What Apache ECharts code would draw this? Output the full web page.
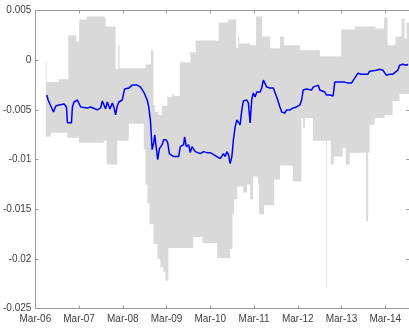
<!DOCTYPE html>
<html>
<head>
<meta charset="utf-8">
<script src="https://cdn.jsdelivr.net/npm/echarts@6/dist/echarts.min.js"></script>
<style>
html,body{margin:0;padding:0;background:#fff;}
#c{width:409px;height:328px;}
</style>
</head>
<body>
<div id="c"></div>
<script>
// x values are decimal years; Mar-06 = 2006.1667
const tickYears = [2006.1667, 2007.1667, 2008.1667, 2009.1667, 2010.1667, 2011.1667, 2012.1667, 2013.1667, 2014.1667];
const yTicks = [-0.025, -0.02, -0.015, -0.01, -0.005, 0, 0.005];

// blue line
const lineX = [2006.429,2006.459,2006.520,2006.582,2006.634,2006.709,2006.823,2006.878,2006.900,2006.937,2006.992,2007.014,2007.051,2007.128,2007.165,2007.203,2007.242,2007.356,2007.431,2007.470,2007.584,2007.659,2007.698,2007.734,2007.773,2007.812,2007.871,2007.926,2007.962,2008.001,2008.039,2008.076,2008.153,2008.206,2008.304,2008.381,2008.418,2008.495,2008.570,2008.645,2008.723,2008.759,2008.798,2008.814,2008.837,2008.873,2008.896,2008.928,2008.964,2009.003,2009.065,2009.101,2009.156,2009.192,2009.231,2009.329,2009.443,2009.481,2009.557,2009.579,2009.618,2009.670,2009.709,2009.748,2009.823,2009.862,2009.937,2010.012,2010.090,2010.165,2010.240,2010.317,2010.393,2010.431,2010.468,2010.506,2010.545,2010.582,2010.620,2010.659,2010.695,2010.734,2010.773,2010.809,2010.848,2010.887,2010.923,2010.962,2011.001,2011.037,2011.076,2011.115,2011.151,2011.190,2011.229,2011.304,2011.342,2011.379,2011.418,2011.456,2011.493,2011.531,2011.607,2011.645,2011.684,2011.721,2011.759,2011.798,2011.834,2011.873,2011.912,2011.987,2012.062,2012.140,2012.215,2012.254,2012.290,2012.367,2012.404,2012.481,2012.518,2012.557,2012.632,2012.670,2012.709,2012.784,2012.823,2012.898,2012.937,2012.973,2013.012,2013.051,2013.240,2013.315,2013.393,2013.468,2013.543,2013.620,2013.771,2013.809,2013.848,2013.962,2014.037,2014.112,2014.190,2014.265,2014.340,2014.379,2014.454,2014.493,2014.568,2014.646,2014.687];
const lineY = [-0.0035,-0.0040,-0.0046,-0.0052,-0.0046,-0.0045,-0.0044,-0.0047,-0.0063,-0.0065,-0.0063,-0.0047,-0.0042,-0.0040,-0.0039,-0.0047,-0.0048,-0.0048,-0.0047,-0.0048,-0.0050,-0.0048,-0.0041,-0.0042,-0.0049,-0.0042,-0.0049,-0.0043,-0.0047,-0.0055,-0.0046,-0.0042,-0.0040,-0.0029,-0.0028,-0.0025,-0.0024,-0.0025,-0.0027,-0.0032,-0.0040,-0.0047,-0.0061,-0.0073,-0.0090,-0.0083,-0.0075,-0.0087,-0.0100,-0.0089,-0.0085,-0.0080,-0.0080,-0.0083,-0.0094,-0.0097,-0.0097,-0.0087,-0.0085,-0.0077,-0.0087,-0.0085,-0.0093,-0.0087,-0.0092,-0.0092,-0.0094,-0.0092,-0.0093,-0.0093,-0.0095,-0.0097,-0.0099,-0.0098,-0.0094,-0.0097,-0.0092,-0.0095,-0.0104,-0.0097,-0.0080,-0.0067,-0.0060,-0.0058,-0.0065,-0.0050,-0.0041,-0.0042,-0.0040,-0.0043,-0.0063,-0.0039,-0.0033,-0.0037,-0.0032,-0.0032,-0.0028,-0.0020,-0.0021,-0.0027,-0.0028,-0.0028,-0.0028,-0.0028,-0.0037,-0.0039,-0.0047,-0.0052,-0.0053,-0.0053,-0.0050,-0.0050,-0.0048,-0.0047,-0.0045,-0.0040,-0.0030,-0.0029,-0.0030,-0.0030,-0.0027,-0.0025,-0.0025,-0.0030,-0.0032,-0.0032,-0.0035,-0.0035,-0.0033,-0.0036,-0.0022,-0.0022,-0.0022,-0.0023,-0.0023,-0.0018,-0.0013,-0.0014,-0.0014,-0.0011,-0.0010,-0.0010,-0.0009,-0.0010,-0.0015,-0.0014,-0.0014,-0.0013,-0.0010,-0.0005,-0.0004,-0.0005,-0.0004];

// grey band: step edges (years) and level of each step
const upperEdges = [2006.406,2006.422,2006.702,2006.919,2007.101,2007.169,2007.340,2007.773,2008.001,2008.062,2008.092,2008.684,2008.809,2008.866,2008.900,2008.980,2009.060,2009.185,2009.299,2009.345,2009.470,2009.709,2009.834,2010.358,2010.575,2010.757,2010.802,2010.825,2011.076,2011.212,2011.349,2011.531,2011.759,2011.850,2012.215,2012.670,2013.160,2013.468,2013.946,2014.140,2014.219,2014.401,2014.538,2014.606,2014.652,2014.709];
const upperVals = [-0.0002,-0.0022,-0.0019,0.0025,0.0019,0.0041,0.0044,0.0034,-0.0009,0.0015,-0.0008,-0.0004,0.0010,-0.0045,-0.0052,-0.0055,-0.0046,-0.0037,-0.0034,-0.0036,-0.0002,0.0008,0.0020,0.0038,0.0041,0.0012,0.0024,0.0017,0.0015,0.0044,0.0024,0.0012,0.0024,0.0015,0.0010,0.0004,0.0031,0.0034,0.0032,0.0043,0.0015,0.0024,0.0042,0.0022,0.0038];
const lowerEdges = [2006.406,2006.520,2006.900,2007.165,2007.727,2007.796,2008.039,2008.304,2008.645,2008.684,2008.729,2008.775,2008.866,2008.957,2009.025,2009.094,2009.140,2009.208,2009.777,2009.982,2010.324,2010.620,2010.673,2010.711,2010.780,2010.917,2011.008,2011.076,2011.144,2011.258,2011.281,2011.395,2011.622,2011.759,2012.055,2012.249,2012.283,2012.329,2012.511,2012.814,2012.832,2012.921,2012.989,2013.194,2013.262,2013.353,2013.730,2013.775,2013.809,2013.923,2014.151,2014.333,2014.493,2014.709];
const lowerVals = [-0.0077,-0.0073,-0.0078,-0.0083,-0.0081,-0.0105,-0.0081,-0.0064,-0.0090,-0.0125,-0.0144,-0.0165,-0.0185,-0.0200,-0.0208,-0.0213,-0.0222,-0.0189,-0.0178,-0.0184,-0.0199,-0.0190,-0.0155,-0.0140,-0.0127,-0.0133,-0.0125,-0.0140,-0.0117,-0.0125,-0.0155,-0.0146,-0.0120,-0.0106,-0.0122,-0.0058,-0.0068,-0.0058,-0.0081,-0.0229,-0.0081,-0.0105,-0.0097,-0.0088,-0.0105,-0.0093,-0.0162,-0.0093,-0.0065,-0.0058,-0.0055,-0.0041,-0.0034];

const X_MIN = 2006.1667, X_MAX = 2014.709;
const axisColor = '#9a9a9a';
const textColor = '#404040';
const font = 'Liberation Sans, Arial, sans-serif';

const chart = echarts.init(document.getElementById('c'));
const lineData = lineX.map((x, i) => [x, lineY[i]]);

function xLabel(v) {
  const yr = Math.round(v - 0.1667) % 100;
  return 'Mar-' + String(yr).padStart(2, '0');
}
function yLabel(v) {
  const r = Math.round(v * 1000) / 1000;
  return r === 0 ? '0' : String(r);
}

const baseX = {
  type: 'value', min: X_MIN, max: X_MAX,
  axisLine: { show: true, onZero: false, lineStyle: { color: axisColor, width: 1 } },
  axisTick: { show: true, inside: true, length: 3, lineStyle: { color: axisColor }, customValues: tickYears },
  splitLine: { show: false }
};
const baseY = {
  type: 'value', min: yTicks[0], max: yTicks[yTicks.length - 1], interval: 0.005,
  axisLine: { show: true, onZero: false, lineStyle: { color: axisColor, width: 1 } },
  axisTick: { show: true, inside: true, length: 3, lineStyle: { color: axisColor } },
  splitLine: { show: false }
};

chart.setOption({
  animation: false,
  backgroundColor: '#ffffff',
  grid: { left: 34.5, top: 10.6, width: 375, height: 298, containLabel: false },
  xAxis: [
    Object.assign({}, baseX, {
      position: 'bottom',
      axisLabel: { show: true, color: textColor, fontSize: 10, fontFamily: font, margin: 6, customValues: tickYears, formatter: xLabel }
    }),
    Object.assign({}, baseX, { position: 'top', axisLabel: { show: false } })
  ],
  yAxis: [
    Object.assign({}, baseY, {
      position: 'left',
      axisLabel: { show: true, color: textColor, fontSize: 10, fontFamily: font, margin: 4, formatter: yLabel }
    }),
    Object.assign({}, baseY, { position: 'right', axisLabel: { show: false } })
  ],
  series: [
    {
      type: 'custom',
      xAxisIndex: 0, yAxisIndex: 0,
      clip: true,
      silent: true,
      data: [[upperEdges[0], upperVals[0]]],
      encode: { x: 0, y: 1 },
      renderItem: function (params, api) {
        const pts = [];
        for (let i = 0; i < upperVals.length; i++) {
          pts.push(api.coord([upperEdges[i], upperVals[i]]));
          pts.push(api.coord([upperEdges[i + 1], upperVals[i]]));
        }
        for (let i = lowerVals.length - 1; i >= 0; i--) {
          pts.push(api.coord([lowerEdges[i + 1], lowerVals[i]]));
          pts.push(api.coord([lowerEdges[i], lowerVals[i]]));
        }
        return { type: 'polygon', shape: { points: pts }, style: { fill: '#d9d9d9', stroke: null } };
      },
      z: 1
    },
    {
      type: 'line',
      xAxisIndex: 0, yAxisIndex: 0,
      data: lineData,
      symbol: 'none',
      lineStyle: { color: '#0000ff', width: 1.5 },
      z: 3
    }
  ]
});
</script>
</body>
</html>
